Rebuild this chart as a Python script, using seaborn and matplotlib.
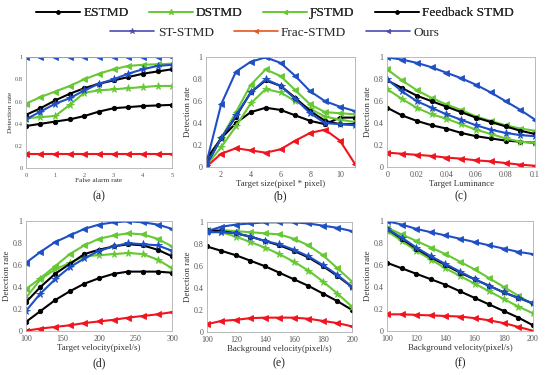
import numpy as np
import pandas as pd
import seaborn as sns
import matplotlib
matplotlib.use('Agg')
import matplotlib.pyplot as plt
from matplotlib.lines import Line2D
from matplotlib.ticker import FormatStrFormatter

# ---- data ----
methods = ['ESTMD', 'DSTMD', 'ƑSTMD', 'Feedback STMD', 'ST-STMD', 'Frac-STMD', 'Ours']

x_a = [0, 0.5, 1, 1.5, 2, 2.5, 3, 3.5, 4, 4.5, 5]
y_a = {
    'ESTMD':         [0.38, 0.40, 0.42, 0.44, 0.47, 0.51, 0.54, 0.55, 0.56, 0.565, 0.57],
    'DSTMD':         [0.45, 0.46, 0.47, 0.57, 0.68, 0.70, 0.71, 0.72, 0.73, 0.74, 0.74],
    'ƑSTMD':         [0.58, 0.64, 0.69, 0.74, 0.80, 0.85, 0.89, 0.92, 0.93, 0.935, 0.94],
    'Feedback STMD': [0.48, 0.54, 0.61, 0.67, 0.72, 0.76, 0.79, 0.82, 0.85, 0.87, 0.89],
    'ST-STMD':       [0.44, 0.51, 0.58, 0.63, 0.70, 0.76, 0.80, 0.85, 0.89, 0.92, 0.93],
    'Frac-STMD':     [0.13] * 11,
    'Ours':          [1.0] * 11,
}

x_b = [1, 2, 3, 4, 5, 6, 7, 8, 9, 10, 11]
y_b = {
    'ESTMD':         [0.07, 0.26, 0.40, 0.50, 0.54, 0.52, 0.47, 0.42, 0.39, 0.45, 0.45],
    'DSTMD':         [0.01, 0.18, 0.37, 0.58, 0.71, 0.68, 0.60, 0.53, 0.46, 0.43, 0.41],
    'ƑSTMD':         [0.02, 0.26, 0.50, 0.75, 0.89, 0.83, 0.70, 0.57, 0.50, 0.49, 0.48],
    'Feedback STMD': [0.02, 0.26, 0.46, 0.68, 0.79, 0.74, 0.63, 0.51, 0.42, 0.39, 0.39],
    'ST-STMD':       [0.01, 0.26, 0.47, 0.68, 0.80, 0.74, 0.62, 0.49, 0.40, 0.39, 0.38],
    'Frac-STMD':     [0.00, 0.12, 0.17, 0.15, 0.13, 0.16, 0.24, 0.31, 0.34, 0.24, 0.03],
    'Ours':          [0.03, 0.57, 0.87, 0.96, 1.00, 0.95, 0.83, 0.69, 0.60, 0.55, 0.51],
}

x_c = [0, 0.01, 0.02, 0.03, 0.04, 0.05, 0.06, 0.07, 0.08, 0.09, 0.1]
y_c = {
    'ESTMD':         [0.54, 0.47, 0.42, 0.38, 0.35, 0.31, 0.28, 0.26, 0.24, 0.23, 0.22],
    'DSTMD':         [0.71, 0.62, 0.54, 0.48, 0.44, 0.39, 0.34, 0.30, 0.26, 0.23, 0.22],
    'ƑSTMD':         [0.89, 0.79, 0.70, 0.63, 0.57, 0.52, 0.46, 0.42, 0.38, 0.35, 0.33],
    'Feedback STMD': [0.79, 0.72, 0.65, 0.60, 0.55, 0.50, 0.45, 0.41, 0.37, 0.33, 0.30],
    'ST-STMD':       [0.80, 0.69, 0.60, 0.54, 0.48, 0.43, 0.38, 0.34, 0.31, 0.29, 0.28],
    'Frac-STMD':     [0.13, 0.12, 0.11, 0.10, 0.085, 0.075, 0.06, 0.05, 0.035, 0.02, 0.01],
    'Ours':          [1.00, 0.98, 0.95, 0.91, 0.86, 0.81, 0.75, 0.68, 0.60, 0.52, 0.43],
}

x_d = [100, 120, 140, 160, 180, 200, 220, 240, 260, 280, 300]
y_d = {
    'ESTMD':         [0.08, 0.18, 0.28, 0.36, 0.43, 0.48, 0.52, 0.54, 0.54, 0.54, 0.53],
    'DSTMD':         [0.30, 0.47, 0.56, 0.62, 0.68, 0.69, 0.70, 0.71, 0.70, 0.65, 0.57],
    'ƑSTMD':         [0.38, 0.48, 0.59, 0.70, 0.78, 0.84, 0.87, 0.89, 0.88, 0.84, 0.77],
    'Feedback STMD': [0.26, 0.40, 0.52, 0.61, 0.70, 0.74, 0.77, 0.79, 0.78, 0.74, 0.68],
    'ST-STMD':       [0.18, 0.34, 0.47, 0.58, 0.66, 0.73, 0.77, 0.80, 0.79, 0.78, 0.73],
    'Frac-STMD':     [0.00, 0.02, 0.035, 0.05, 0.07, 0.085, 0.10, 0.12, 0.135, 0.15, 0.17],
    'Ours':          [0.62, 0.72, 0.81, 0.87, 0.93, 0.97, 0.99, 1.00, 0.99, 0.97, 0.93],
}

x_e = [100, 110, 120, 130, 140, 150, 160, 170, 180, 190, 200]
y_e = {
    'ESTMD':         [0.78, 0.74, 0.70, 0.65, 0.60, 0.54, 0.48, 0.42, 0.35, 0.28, 0.20],
    'DSTMD':         [0.92, 0.91, 0.87, 0.82, 0.77, 0.71, 0.64, 0.56, 0.46, 0.35, 0.23],
    'ƑSTMD':         [0.93, 0.93, 0.92, 0.91, 0.90, 0.89, 0.85, 0.79, 0.70, 0.58, 0.46],
    'Feedback STMD': [0.93, 0.92, 0.90, 0.87, 0.83, 0.79, 0.74, 0.68, 0.60, 0.51, 0.41],
    'ST-STMD':       [0.91, 0.91, 0.90, 0.87, 0.83, 0.80, 0.75, 0.69, 0.61, 0.52, 0.41],
    'Frac-STMD':     [0.07, 0.10, 0.11, 0.125, 0.13, 0.13, 0.13, 0.12, 0.10, 0.08, 0.05],
    'Ours':          [0.92, 0.96, 0.98, 0.99, 1.00, 1.00, 1.00, 0.99, 0.97, 0.95, 0.92],
}

x_f = [100, 110, 120, 130, 140, 150, 160, 170, 180, 190, 200]
y_f = {
    'ESTMD':         [0.62, 0.57, 0.52, 0.47, 0.42, 0.36, 0.30, 0.24, 0.18, 0.12, 0.05],
    'DSTMD':         [0.91, 0.82, 0.73, 0.65, 0.57, 0.50, 0.43, 0.36, 0.29, 0.22, 0.16],
    'ƑSTMD':         [0.94, 0.88, 0.82, 0.76, 0.70, 0.63, 0.56, 0.48, 0.40, 0.32, 0.24],
    'Feedback STMD': [0.93, 0.84, 0.75, 0.67, 0.60, 0.53, 0.47, 0.41, 0.35, 0.30, 0.25],
    'ST-STMD':       [0.93, 0.85, 0.76, 0.68, 0.61, 0.54, 0.47, 0.41, 0.35, 0.30, 0.25],
    'Frac-STMD':     [0.15, 0.15, 0.145, 0.14, 0.135, 0.13, 0.115, 0.095, 0.07, 0.035, 0.0],
    'Ours':          [1.00, 0.97, 0.93, 0.90, 0.87, 0.84, 0.81, 0.78, 0.75, 0.72, 0.70],
}

xlabels = ['False alarm rate', 'Target size(pixel * pixel)', 'Target Luminance',
           'Target velocity(pixel/s)', 'Background velocity(pixel/s)', 'Background velocity(pixel/s)']
panel_tags = ['(a)', '(b)', '(c)', '(d)', '(e)', '(f)']
xticks = [[0, 1, 2, 3, 4, 5], [2, 4, 6, 8, 10], [0, 0.02, 0.04, 0.06, 0.08, 0.1],
          [100, 150, 200, 250, 300], [100, 120, 140, 160, 180, 200], [100, 120, 140, 160, 180, 200]]
xlims = [(0, 5), (1, 11), (0, 0.1), (100, 300), (100, 200), (100, 200)]

# ---- styles ----
GREEN = '#66c832'
BLUE = '#1f4fc4'
RED = '#f0141e'
plot_color = {'ESTMD': 'black', 'DSTMD': GREEN, 'ƑSTMD': GREEN, 'Feedback STMD': 'black',
              'ST-STMD': BLUE, 'Frac-STMD': RED, 'Ours': BLUE}
legend_color = {'ESTMD': 'black', 'DSTMD': GREEN, 'ƑSTMD': GREEN, 'Feedback STMD': 'black',
                'ST-STMD': '#4b4bb0', 'Frac-STMD': '#e8541e', 'Ours': '#4b4bb0'}
marker = {'ESTMD': 'o', 'DSTMD': '*', 'ƑSTMD': '<', 'Feedback STMD': 'o',
          'ST-STMD': '*', 'Frac-STMD': '<', 'Ours': '<'}
msize = {'o': 3.2, '*': 5.5, '<': 4.0}
draw_order = ['Frac-STMD', 'ESTMD', 'DSTMD', 'ƑSTMD', 'Feedback STMD', 'ST-STMD', 'Ours']

sns.set_theme(style='white')
plt.rcParams['font.family'] = ['Liberation Serif', 'DejaVu Serif']
plt.rcParams['xtick.direction'] = 'in'
plt.rcParams['ytick.direction'] = 'in'

fig = plt.figure(figsize=(5.5, 3.75), dpi=100)

positions = [
    [0.047, 0.551, 0.266, 0.297],
    [0.375, 0.555, 0.270, 0.292],
    [0.704, 0.555, 0.269, 0.292],
    [0.047, 0.118, 0.266, 0.292],
    [0.376, 0.115, 0.264, 0.292],
    [0.704, 0.118, 0.265, 0.292],
]
panels = [(x_a, y_a), (x_b, y_b), (x_c, y_c), (x_d, y_d), (x_e, y_e), (x_f, y_f)]

for i, (xs, ys) in enumerate(panels):
    ax = fig.add_axes(positions[i])
    df = pd.DataFrame({'x': np.tile(xs, len(methods)),
                       'rate': np.concatenate([ys[m] for m in methods]),
                       'method': np.repeat(methods, len(xs))})
    for m in draw_order:
        sub = df[df['method'] == m]
        sns.lineplot(data=sub, x='x', y='rate', ax=ax, color=plot_color[m], linewidth=1.5,
                     marker=marker[m], markersize=msize[marker[m]], markeredgewidth=0.6,
                     markeredgecolor=plot_color[m], legend=False)
    small = 4.6 if i == 0 else 5.8
    ax.set_xlim(*xlims[i])
    ax.set_ylim(0, 1)
    ax.set_xticks(xticks[i])
    ax.set_yticks([0, 0.2, 0.4, 0.6, 0.8, 1])
    ax.xaxis.set_major_formatter(FormatStrFormatter('%g'))
    ax.yaxis.set_major_formatter(FormatStrFormatter('%g'))
    ax.tick_params(labelsize=small, colors='#555555', length=2, width=0.5)
    ax.tick_params(axis='x', pad=3)
    ax.tick_params(axis='y', pad=2.5)
    ax.set_xlabel(xlabels[i], fontsize=small + 0.6, color='#333333', labelpad=0.5)
    ax.set_ylabel('Detection rate', fontsize=small + 0.6, color='#333333', labelpad=1)
    for s in ax.spines.values():
        s.set_color('#b0b0b0')
        s.set_linewidth(0.6)
    bb = positions[i]
    ty = 0.477 if i < 3 else 0.032
    fig.text(bb[0] + bb[2] / 2, ty, panel_tags[i], ha='center', va='center', fontsize=8.5, color='#222222')

# ---- legend (two centred rows) ----
def handle(m):
    return Line2D([], [], color=legend_color[m], marker=marker[m], linewidth=1.2,
                  markersize=msize[marker[m]] * 0.8, markeredgewidth=0.5)

row1 = methods[:4]
row2 = methods[4:]
leg1 = fig.legend([handle(m) for m in row1], row1, loc='center', bbox_to_anchor=(0.5, 0.965),
                  ncol=4, frameon=False, fontsize=9.6, handlelength=3.3, handletextpad=0.25,
                  columnspacing=1.5, borderpad=0)
leg2 = fig.legend([handle(m) for m in row2], row2, loc='center', bbox_to_anchor=(0.5, 0.913),
                  ncol=3, frameon=False, fontsize=9.6, handlelength=3.3, handletextpad=0.25,
                  columnspacing=1.5, borderpad=0)
fig.add_artist(leg1)

fig.savefig('out.png', dpi=100, facecolor='white')
